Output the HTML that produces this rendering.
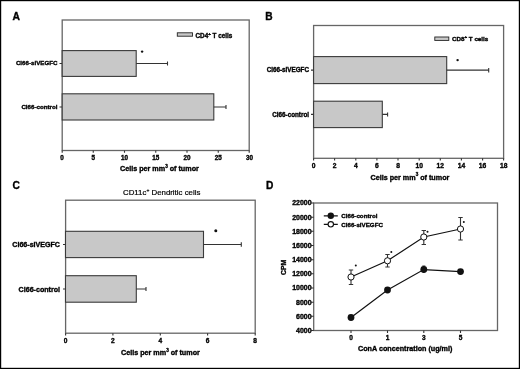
<!DOCTYPE html>
<html><head><meta charset="utf-8">
<style>
html,body{margin:0;padding:0;background:#fff;}
svg{display:block;filter:blur(0.3px);font-family:"Liberation Sans",sans-serif;}
.b{font-weight:bold;stroke:#000;stroke-width:0.35;paint-order:stroke;}
.ln{stroke:#333;stroke-width:1.1;fill:none;}
.fr{stroke:#666;stroke-width:1.3;fill:none;}
.bar{fill:#c8c8c8;stroke:#3a3a3a;stroke-width:1.1;}
</style></head><body>
<svg width="520" height="369" viewBox="0 0 520 369">
<rect x="0" y="0" width="520" height="369" fill="#fff"/>
<rect x="0.5" y="0.5" width="519" height="368" fill="none" stroke="#000" stroke-width="1.4"/>

<!-- Panel A -->
<g id="A">
<text class="b" x="12.6" y="19.6" font-size="10.3">A</text>
<rect class="fr" x="62.2" y="20" width="187" height="130.5"/>
<rect class="bar" x="62.2" y="50.6" width="74" height="25.8"/>
<rect class="bar" x="62.2" y="93.8" width="151.6" height="26.2"/>
<path class="ln" d="M136.2 63.5H167.5M167.5 61.5V65.5M213.8 107H226M226 105V109"/>
<path class="ln" d="M59.5 63.5H62M59.5 107H62"/>
<path class="ln" d="M62.2 150.5v2.2M249.2 150.5v2.2M93.25 150.5v2.2M124.5 150.5v2.2M155.75 150.5v2.2M187 150.5v2.2M218.25 150.5v2.2"/>
<g class="b" font-size="6.2" text-anchor="end"><text x="57.5" y="65.2">Cl66-siVEGFC</text><text x="57.5" y="108.9">Cl66-control</text></g>
<g class="b" font-size="6.3" text-anchor="middle"><text x="62" y="160">0</text><text x="93.25" y="160">5</text><text x="124.5" y="160">10</text><text x="155.75" y="160">15</text><text x="187" y="160">20</text><text x="218.25" y="160">25</text><text x="249.5" y="160">30</text></g>
<text class="b" font-size="7.2" x="120" y="171.4">Cells per mm<tspan font-size="4.6" dy="-3.4">3</tspan><tspan dy="3.4"> of tumor</tspan></text>
<rect x="177.3" y="32.8" width="15.2" height="3.4" fill="#c9c9c9" stroke="#222" stroke-width="0.9"/>
<text class="b" font-size="6.35" x="195.5" y="37.8">CD4<tspan font-size="4.4" dy="-3.1">+</tspan><tspan dy="3.1"> T cells</tspan></text>
<circle cx="142.1" cy="51.6" r="1.2" fill="#111"/>
</g>

<!-- Panel B -->
<g id="B">
<text class="b" x="265.2" y="19.6" font-size="10.2">B</text>
<rect class="fr" x="313.6" y="25.5" width="190" height="132.8"/>
<rect class="bar" x="313.6" y="56.6" width="133.1" height="27"/>
<rect class="bar" x="313.6" y="101.2" width="68.7" height="26.4"/>
<path class="ln" d="M446.7 70.1H488.7M488.7 67.9V72.4M382.3 114.4H387.6M387.6 112.4V116.4"/>
<path class="ln" d="M311 70.1H313.5M311 114.4H313.5"/>
<path class="ln" d="M313.6 158.3v2.2M503.6 158.3v2.2M334.6 158.3v2.2M355.8 158.3v2.2M376.9 158.3v2.2M398 158.3v2.2M419.2 158.3v2.2M440.3 158.3v2.2M461.4 158.3v2.2M482.6 158.3v2.2"/>
<g class="b" font-size="6.3" text-anchor="end"><text x="309" y="72.3">Cl66-siVEGFC</text><text x="309" y="116.6">Cl66-control</text></g>
<g class="b" font-size="6.7" text-anchor="middle"><text x="313.5" y="168">0</text><text x="334.6" y="168">2</text><text x="355.8" y="168">4</text><text x="376.9" y="168">6</text><text x="398" y="168">8</text><text x="419.2" y="168">10</text><text x="440.3" y="168">12</text><text x="461.4" y="168">14</text><text x="482.6" y="168">16</text><text x="503.7" y="168">18</text></g>
<text class="b" font-size="7.2" x="370.5" y="179.6">Cells per mm<tspan font-size="4.6" dy="-3.4">3</tspan><tspan dy="3.4"> of tumor</tspan></text>
<rect x="434.8" y="37" width="14" height="3.4" fill="#c9c9c9" stroke="#222" stroke-width="0.9"/>
<text class="b" font-size="6.25" x="452" y="41">CD8<tspan font-size="4.4" dy="-3.1">+</tspan><tspan dy="3.1"> T cells</tspan></text>
<circle cx="457.6" cy="60.1" r="1.2" fill="#111"/>
</g>

<!-- Panel C -->
<g id="C">
<text class="b" x="12.5" y="189.1" font-size="10.2">C</text>
<text font-size="7.85" x="123" y="195.2" stroke="#000" stroke-width="0.2">CD11c<tspan font-size="5" dy="-3">+</tspan><tspan dy="3"> Dendritic cells</tspan></text>
<rect class="fr" x="65.6" y="200.2" width="189.6" height="133"/>
<rect class="bar" x="65.5" y="231.3" width="138" height="26.3"/>
<rect class="bar" x="65.5" y="275.7" width="70.8" height="26.5"/>
<path class="ln" d="M203.5 244.5H241.3M241.3 242.3V246.7M136.3 289H146M146 287V291"/>
<path class="ln" d="M63 244.5H65.5M63 289H65.5"/>
<path class="ln" d="M65.6 333.2v2.2M255.2 333.2v2.2M112.9 333.2v2.2M160.3 333.2v2.2M207.6 333.2v2.2"/>
<g class="b" font-size="7.1" text-anchor="end"><text x="60" y="247.1">Cl66-siVEGFC</text><text x="60" y="291.7">Cl66-control</text></g>
<g class="b" font-size="6.6" text-anchor="middle"><text x="65.5" y="342.5">0</text><text x="112.9" y="342.5">2</text><text x="160.3" y="342.5">4</text><text x="207.6" y="342.5">6</text><text x="255" y="342.5">8</text></g>
<text class="b" font-size="7.2" x="121" y="355.1">Cells per mm<tspan font-size="4.6" dy="-3.4">3</tspan><tspan dy="3.4"> of tumor</tspan></text>
<circle cx="215.8" cy="230.8" r="1.5" fill="#111"/>
</g>

<!-- Panel D -->
<g id="D">
<text class="b" x="265.9" y="189" font-size="10.2">D</text>
<rect class="fr" x="313.7" y="203" width="183.8" height="127.5"/>
<path class="ln" d="M311.2 203h2.5M311.2 217.2h2.5M311.2 231.3h2.5M311.2 245.5h2.5M311.2 259.7h2.5M311.2 273.8h2.5M311.2 288h2.5M311.2 302.2h2.5M311.2 316.3h2.5M311.2 330.5h2.5"/>
<path class="ln" d="M351 330.5v2.5M387.5 330.5v2.5M423.8 330.5v2.5M460.5 330.5v2.5"/>
<g class="b" font-size="7" text-anchor="end"><text x="311.6" y="205.3">22000</text><text x="311.6" y="219.5">20000</text><text x="311.6" y="233.6">18000</text><text x="311.6" y="247.8">16000</text><text x="311.6" y="262">14000</text><text x="311.6" y="276.1">12000</text><text x="311.6" y="290.3">10000</text><text x="311.6" y="304.5">8000</text><text x="311.6" y="318.6">6000</text><text x="311.6" y="332.8">4000</text></g>
<g class="b" font-size="6.5" text-anchor="middle"><text x="351" y="340">0</text><text x="387.5" y="340">1</text><text x="423.8" y="340">3</text><text x="460.5" y="340">5</text></g>
<text class="b" font-size="7.2" x="358" y="351.1">ConA concentration (ug/ml)</text>
<text class="b" font-size="6.8" transform="translate(286.3,275) rotate(-90)">CPM</text>
<!-- error bars -->
<path class="ln" d="M351 270V284.5M348.8 270h4.4M348.8 284.5h4.4M387.5 254.5V267M385.3 254.5h4.4M385.3 267h4.4M423.8 230.5V244.5M421.6 230.5h4.4M421.6 244.5h4.4M460.5 217.5V240M458.3 217.5h4.4M458.3 240h4.4"/>
<path class="ln" d="M423.8 266v7M422.3 266h3"/>
<!-- lines -->
<path d="M351 277L387.5 260.8L423.8 237L460.5 229" stroke="#111" stroke-width="1.2" fill="none"/>
<path d="M351 317.5L387.5 290L423.8 269.6L460.5 271.6" stroke="#111" stroke-width="1.2" fill="none"/>
<g fill="#fff" stroke="#111" stroke-width="1"><circle cx="351" cy="277" r="3.1"/><circle cx="387.5" cy="260.8" r="3.1"/><circle cx="423.8" cy="237" r="3.1"/><circle cx="460.5" cy="229" r="3.1"/></g>
<g fill="#111"><circle cx="351" cy="317.5" r="3.4"/><circle cx="387.5" cy="290" r="3.4"/><circle cx="423.8" cy="269.5" r="3.4"/><circle cx="460.5" cy="271.6" r="3.4"/></g>
<!-- legend -->
<path class="ln" d="M323.8 215.8H337.8M323.8 224.3H337.8" style="stroke-width:1.3;stroke:#111"/>
<circle cx="330.8" cy="215.8" r="3.2" fill="#111"/>
<circle cx="330.8" cy="224.3" r="2.7" fill="#fff" stroke="#111" stroke-width="1.1"/>
<g class="b" font-size="6.2"><text x="341.3" y="218">Cl66-control</text><text x="341.3" y="226.8">Cl66-siVEGFC</text></g>
<g fill="#111"><circle cx="355.8" cy="265.6" r="1"/><circle cx="391.3" cy="252.1" r="1"/><circle cx="427.5" cy="231.8" r="1"/><circle cx="463.8" cy="222" r="1"/></g>
</g>
</svg>
</body></html>
